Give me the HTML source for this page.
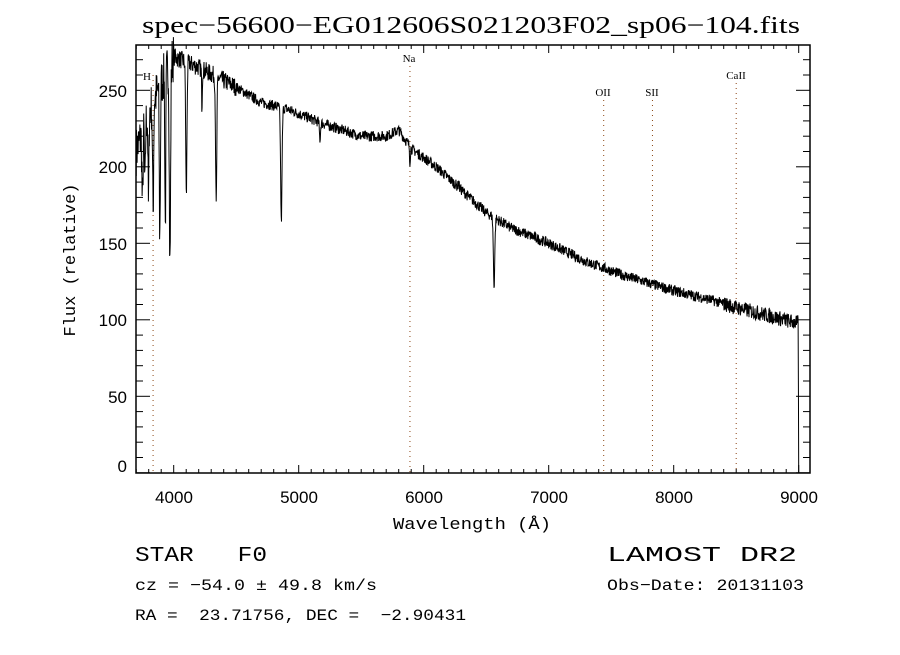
<!DOCTYPE html>
<html><head><meta charset="utf-8"><style>
html,body{margin:0;padding:0;background:#fff;}
svg text{fill:#000;white-space:pre;}
.serif{font-family:"Liberation Serif",serif;}
.sans{font-family:"Liberation Sans",sans-serif;}
.mono{font-family:"Liberation Mono",monospace;}
</style></head><body>
<svg id="s" width="900" height="650" viewBox="0 0 900 650" xmlns="http://www.w3.org/2000/svg">
<rect width="900" height="650" fill="#fff"/>
<text class="serif" x="471" y="33" font-size="24" text-anchor="middle" textLength="658" lengthAdjust="spacingAndGlyphs">spec−56600−EG012606S021203F02_sp06−104.fits</text>
<g id="ax"></g>
<polyline id="sp" fill="none" stroke="#000" stroke-width="1"/>
<rect x="136" y="45" width="674" height="428" fill="none" stroke="#000" stroke-width="1.5"/>
<g font-size="17" class="sans">
<text class="sans" x="174" y="503" text-anchor="middle">4000</text>
<text class="sans" x="299" y="503" text-anchor="middle">5000</text>
<text class="sans" x="424" y="503" text-anchor="middle">6000</text>
<text class="sans" x="549" y="503" text-anchor="middle">7000</text>
<text class="sans" x="674" y="503" text-anchor="middle">8000</text>
<text class="sans" x="799" y="503" text-anchor="middle">9000</text>
<text class="sans" x="127" y="97" text-anchor="end">250</text>
<text class="sans" x="127" y="173" text-anchor="end">200</text>
<text class="sans" x="127" y="250" text-anchor="end">150</text>
<text class="sans" x="127" y="326" text-anchor="end">100</text>
<text class="sans" x="127" y="403" text-anchor="end">50</text>
<text class="sans" x="127" y="472" text-anchor="end">0</text>
</g>
<text class="mono" x="393" y="529" font-size="17" textLength="158" lengthAdjust="spacingAndGlyphs">Wavelength (Å)</text>
<text class="mono" transform="translate(75,260) rotate(-90)" font-size="17" text-anchor="middle">Flux (relative)</text>
<g font-size="11">
<text class="serif" x="147" y="80" text-anchor="middle">H</text>
<text class="serif" x="409" y="62" text-anchor="middle">Na</text>
<text class="serif" x="603" y="96" text-anchor="middle">OII</text>
<text class="serif" x="652" y="96" text-anchor="middle">SII</text>
<text class="serif" x="736" y="79" text-anchor="middle">CaII</text>
</g>
<text class="mono" x="135" y="561" font-size="21" textLength="132" lengthAdjust="spacingAndGlyphs">STAR   F0</text>
<text class="mono" x="607" y="561" font-size="21" textLength="190" lengthAdjust="spacingAndGlyphs">LAMOST DR2</text>
<text class="mono" x="135" y="590" font-size="16" textLength="242" lengthAdjust="spacingAndGlyphs">cz = −54.0 ± 49.8 km/s</text>
<text class="mono" x="607" y="590" font-size="16" textLength="197" lengthAdjust="spacingAndGlyphs">Obs−Date: 20131103</text>
<text class="mono" x="135" y="620" font-size="16" textLength="331" lengthAdjust="spacingAndGlyphs">RA =  23.71756, DEC =  −2.90431</text>
</svg>
<script>
var X=function(w){return 173.7+(w-4000)*0.125;};
var Y=function(v){return 472.8-1.53*v;};
var ax=document.getElementById('ax'),h='';
for(var w=3700;w<=9000;w+=100){var x=X(w),L=(w%1000==0)?8:4;
h+='<line x1="'+x+'" y1="473" x2="'+x+'" y2="'+(473-L)+'" stroke="#000"/>';
h+='<line x1="'+x+'" y1="45" x2="'+x+'" y2="'+(45+L)+'" stroke="#000"/>';}
for(var v=0;v<=270;v+=10){var y=Y(v),L=(v%50==0)?14:7;
h+='<line x1="136" y1="'+y+'" x2="'+(136+L)+'" y2="'+y+'" stroke="#000"/>';
h+='<line x1="810" y1="'+y+'" x2="'+(810-L)+'" y2="'+y+'" stroke="#000"/>';}
[[3835,75],[5890,66],[7440,100],[7830,100],[8500,83]].forEach(function(d){var x=X(d[0]);
h+='<line x1="'+x+'" y1="'+d[1]+'" x2="'+x+'" y2="473" stroke="#8b4513" stroke-dasharray="1,4"/>';});
ax.innerHTML=h;
var cont=[[3700,210],[3800,235],[3900,255],[4000,272],[4200,265],[4500,252],[4700,242],[4900,238],[5200,228],[5500,220],[5700,220],[5800,224],[5900,212],[6100,200],[6300,185],[6500,170],[6700,160],[7000,150],[7300,138],[7600,129],[8000,119],[8300,113],[8500,108],[8700,104],[8980,98]];
function C(w){for(var i=0;i<cont.length-1;i++){if(w<=cont[i+1][0]){var a=cont[i],b=cont[i+1];return a[1]+(b[1]-a[1])*(w-a[0])/(b[0]-a[0]);}}return 98;}
var lines=[[3750,175,6],[3770,185,5],[3798,175,5],[3835,170,6],[3889,155,6],[3933,160,5],[3970,135,7],[4101,181,7],[4340,174,7],[4861,164,8],[5170,218,6],[6563,122,8],[5890,203,4],[6280,190,5],[4226,240,4]];
var seed=7;function r(){seed=(seed*16807)%2147483647;return seed/2147483647;}
var pts=[];
for(var w=3700;w<=8995;w+=2.5){var v=C(w);var n=(w<4000?16:(w<4500?6:(w>8400?5:3.5)));v+=(r()-0.5)*n*2;
lines.forEach(function(l){var d=(w-l[0])/l[2];var depth=C(l[0])-l[1];v-=depth*Math.exp(-d*d);});
pts.push(X(w).toFixed(1)+','+Y(v).toFixed(1));}
pts.push(X(8998)+','+Y(50));pts.push(X(9000)+','+Y(0));
document.getElementById('sp').setAttribute('points',pts.join(' '));
</script>
</body></html>
